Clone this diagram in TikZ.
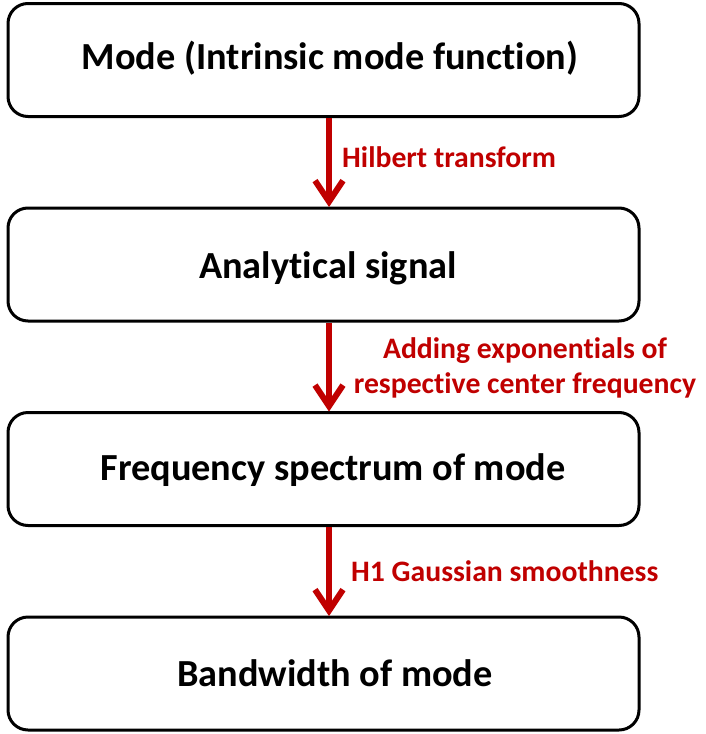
\documentclass[tikz,border=0pt]{standalone}
\usepackage{fontspec}
\setmainfont{Carlito}[Ligatures=NoCommon]
\usetikzlibrary{arrows.meta}
\definecolor{darkred}{HTML}{C00000}
\tikzset{
  stagebox/.style={draw=black, line width=3pt, rounded corners=20pt,
    minimum width=631pt, minimum height=113pt, inner sep=0pt},
  stagetext/.style={font=\fontsize{38.3}{44}\selectfont\bfseries, text=black},
  flowarrow/.style={draw=darkred, line width=6pt,
    -{Straight Barb[length=21pt, width=28pt, line width=6pt]}},
  steplabel/.style={font=\fontsize{29.7}{35}\selectfont\bfseries, text=darkred, inner sep=0pt}
}
\begin{document}
\begin{tikzpicture}[x=1pt, y=-1pt]
  \useasboundingbox (0,0) rectangle (705,734);
  % boxes
  \node[stagebox] (b1) at (323.5, 60) {};
  \node[stagebox] (b2) at (323.5, 264.5) {};
  \node[stagebox] (b3) at (323.5, 469) {};
  \node[stagebox] (b4) at (323.5, 673.5) {};
  % box texts
  \node[stagetext] (t1) at (330, 58) {Mode (Intrinsic mode function)};
  \node[stagetext] (t2) at (328, 268) {Analytical signal};
  \node[stagetext] (t3) at (333, 470) {Frequency spectrum of mode};
  \node[stagetext] (t4) at (335, 673) {Bandwidth of mode};
  % arrows
  \coordinate (a1s) at (329, 118);
  \coordinate (a1e) at (329, 207);
  \coordinate (a2s) at (329, 322.5);
  \coordinate (a2e) at (329, 411.5);
  \coordinate (a3s) at (329, 527);
  \coordinate (a3e) at (329, 616);
  \draw[flowarrow] (a1s) -- (a1e);
  \draw[flowarrow] (a2s) -- (a2e);
  \draw[flowarrow] (a3s) -- (a3e);
  % arrow labels
  \node[steplabel, anchor=west] (l1) at (342, 157) {Hilbert transform};
  \node[steplabel, align=center] (l2) at (525, 368) {Adding exponentials of\\respective center frequency};
  \node[steplabel, anchor=west] (l3) at (351, 571) {H1 Gaussian smoothness};
\end{tikzpicture}
\end{document}
